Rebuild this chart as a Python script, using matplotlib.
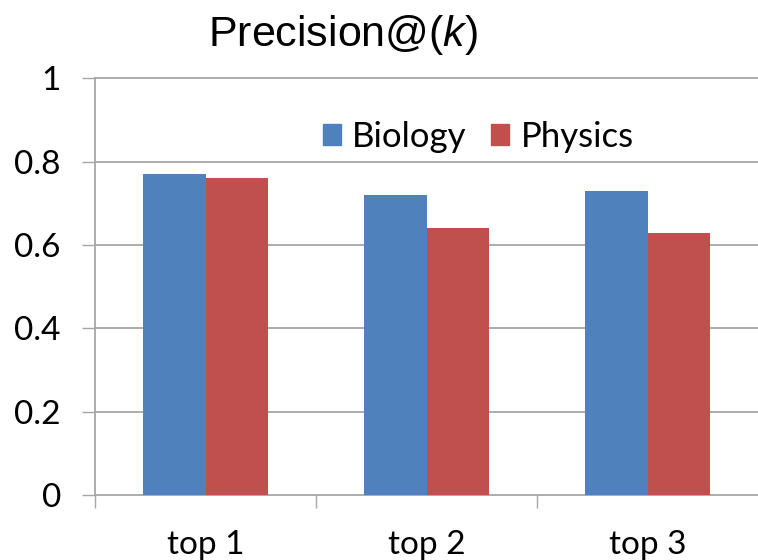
import numpy as np
import matplotlib
matplotlib.use("Agg")
import matplotlib.pyplot as plt
from matplotlib.patches import Patch

# Precision@k per category
categories = ["top 1", "top 2", "top 3"]
biology = [0.77, 0.72, 0.73]
physics = [0.76, 0.64, 0.63]
y_ticks = [0, 0.2, 0.4, 0.6, 0.8, 1]
y_tick_labels = ["0", "0.2", "0.4", "0.6", "0.8", "1"]

BLUE = "#4F81BD"
RED = "#C0504D"
GRID = "#A6A6A6"

plt.rcParams["font.family"] = ["Lato", "DejaVu Sans"]
plt.rcParams["mathtext.fontset"] = "custom"
plt.rcParams["mathtext.rm"] = "Liberation Sans"
plt.rcParams["mathtext.it"] = "Liberation Sans:italic"

fig = plt.figure(figsize=(7.58, 5.6), dpi=100)
ax = fig.add_axes([95 / 758, 1 - 495 / 560, 1 - 95 / 758, (495 - 78.5) / 560])

x = np.arange(len(categories))
w = 0.284
ax.bar(x - w / 2, biology, width=w, color=BLUE, zorder=3)
ax.bar(x + w / 2, physics, width=w, color=RED, zorder=3)

ax.set_xlim(-0.5, 2.5)
ax.set_ylim(0, 1)

# horizontal grid lines, reaching out over the tick marks on the left
for yv in y_ticks[1:]:
    ax.axhline(yv, color=GRID, lw=1.3, zorder=1, clip_on=False)

for s in ["top", "right"]:
    ax.spines[s].set_visible(False)
ax.spines["left"].set_color(GRID)
ax.spines["bottom"].set_color(GRID)
ax.spines["left"].set_linewidth(1.3)
ax.spines["bottom"].set_linewidth(1.3)

ax.set_yticks(y_ticks)
ax.set_yticklabels(y_tick_labels)
ax.tick_params(axis="y", length=9.5, width=1.0, color=GRID, pad=15, labelsize=24)

ax.set_xticks(x)
ax.set_xticklabels(categories)
ax.tick_params(axis="x", which="major", length=0, pad=25, labelsize=24)
ax.set_xticks([-0.5, 0.5, 1.5], minor=True)
ax.tick_params(axis="x", which="minor", length=9, width=1.0, color=GRID)

handles = [Patch(color=BLUE, label="Biology"), Patch(color=RED, label="Physics")]
ax.legend(handles=handles, loc="center", bbox_to_anchor=(0.578, 0.86), ncol=2,
          frameon=False, fontsize=25, handlelength=0.52, handleheight=0.52,
          handletextpad=0.32, columnspacing=0.72, borderaxespad=0)

fig.text(0.4525, 0.9375, "Precision@($\\mathit{k)}$", ha="center", va="center",
         fontsize=31, family="Liberation Sans")

fig.savefig("out.png", dpi=100)
